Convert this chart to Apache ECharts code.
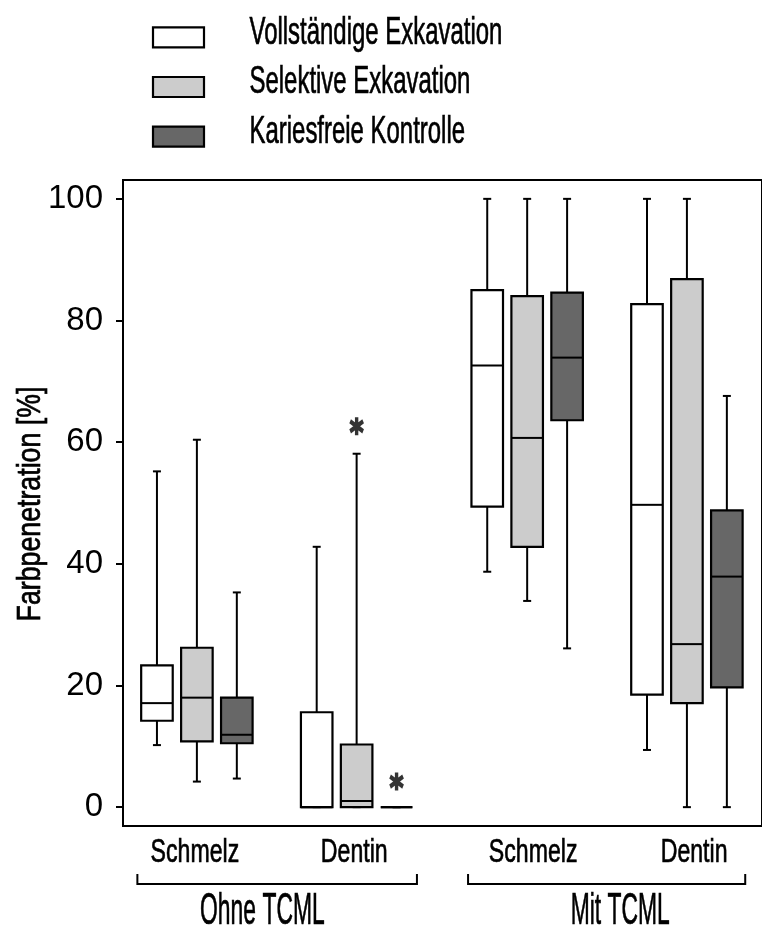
<!DOCTYPE html>
<html>
<head>
<meta charset="utf-8">
<script src="https://cdn.jsdelivr.net/npm/echarts@6/dist/echarts.min.js"></script>
<style>
  html, body { margin: 0; padding: 0; background: #fff; }
  #chart { width: 762px; height: 941px; }
</style>
</head>
<body>
<div id="chart"></div>
<script>
// Sites within each condition, in drawing order
const sites = ['Schmelz', 'Dentin', 'Schmelz', 'Dentin'];
const conditions = ['Ohne TCML', 'Mit TCML'];
const methods = ['Vollständige Exkavation', 'Selektive Exkavation', 'Kariesfreie Kontrolle'];

// Box statistics per site: [min, Q1, median, Q3, max] in %
const vollstaendig = [
  [10.2, 14.2, 17.1, 23.3, 55.2],
  [0, 0, 0, 15.6, 42.8],
  [38.7, 49.4, 72.6, 85.0, 100],
  [9.4, 18.5, 49.7, 82.7, 100]
];
const selektiv = [
  [4.2, 10.8, 18.0, 26.2, 60.4],
  [0, 0, 1.0, 10.3, 58.1],
  [33.9, 42.8, 60.7, 84.0, 100],
  [0, 17.1, 26.8, 86.8, 100]
];
const kontrolle = [
  [4.7, 10.5, 11.9, 18.0, 35.3],
  [0, 0, 0, 0, 0],
  [26.1, 63.6, 73.9, 84.6, 100],
  [0, 19.7, 37.9, 48.8, 67.6]
];

// Extreme values (site index, value) marked with an asterisk
const vollstaendigExtreme = [];
const selektivExtreme = [[1, 62.6]];
const kontrolleExtreme = [[1, 4.2]];

const yTicks = [0, 20, 40, 60, 80, 100];

// ---- layout (x axis is measured in box slots) ----
const siteX = [1.85, 5.85, 10.12, 14.12];
const siteLabelX = [1.80, 5.79, 10.27, 14.30];
const boxOffset = [-1, 0, 1];
const boxWidth = 0.79;
const bracketX = [[0.36, 7.36], [8.64, 15.58]];
const conditionLabelX = [3.49, 12.45];
const fills = ['#ffffff', '#cccccc', '#676767'];
const sans = '"Liberation Sans", Arial, sans-serif';

const boxSets = [vollstaendig, selektiv, kontrolle];
const extremeSets = [vollstaendigExtreme, selektivExtreme, kontrolleExtreme];

function renderBox(params, api) {
  const s = params.seriesIndex;
  const xc = siteX[api.value(0)] + boxOffset[s];
  const v = [1, 2, 3, 4, 5].map(i => api.value(i));
  const pt = val => api.coord([xc, val]);
  const half = api.size([boxWidth, 0])[0] / 2;
  const cap = 4;
  const [pLo, pQ1, pMd, pQ3, pHi] = v.map(pt);
  const cx = pLo[0];
  const line = (x1, y1, x2, y2) => ({
    type: 'line',
    shape: { x1, y1, x2, y2 },
    style: { stroke: '#000', lineWidth: 2 }
  });
  return {
    type: 'group',
    children: [
      line(cx, pQ3[1], cx, pHi[1]),
      line(cx - cap, pHi[1], cx + cap, pHi[1]),
      line(cx, pQ1[1], cx, pLo[1]),
      line(cx - cap, pLo[1], cx + cap, pLo[1]),
      {
        type: 'rect',
        shape: { x: cx - half, y: pQ3[1], width: half * 2, height: pQ1[1] - pQ3[1] },
        style: { fill: fills[s], stroke: '#000', lineWidth: 2.2 }
      },
      line(cx - half, pMd[1], cx + half, pMd[1])
    ]
  };
}

const series = [];
methods.forEach((name, s) => {
  series.push({
    name,
    type: 'custom',
    renderItem: renderBox,
    itemStyle: { color: fills[s], borderColor: '#000', borderWidth: 2 },
    data: boxSets[s].map((st, g) => [g].concat(st)),
    z: 2
  });
});
methods.forEach((name, s) => {
  if (!extremeSets[s].length) return;
  series.push({
    name: name + ' (Extremwerte)',
    type: 'scatter',
    symbol: 'path://M5,0L5,16M0,3.5L10,12.5M0,12.5L10,3.5',
    symbolSize: [13, 18],
    itemStyle: { color: 'rgba(0,0,0,0)', borderColor: '#000', borderWidth: 4 },
    data: extremeSets[s].map(([g, val]) => [siteX[g] + boxOffset[s], val]),
    z: 3
  });
});

const chart = echarts.init(document.getElementById('chart'), null, { renderer: 'canvas' });

chart.setOption({
  animation: false,
  backgroundColor: '#ffffff',
  grid: {
    left: 123,
    top: 180,
    width: 649,
    height: 646,
    show: true,
    borderColor: '#000',
    borderWidth: 2,
    backgroundColor: 'transparent'
  },
  xAxis: {
    type: 'value',
    min: 0,
    max: 16,
    splitLine: { show: false },
    axisTick: { show: false },
    axisLine: { show: true, onZero: false, lineStyle: { color: '#000', width: 2 } },
    axisLabel: { show: false }
  },
  yAxis: {
    type: 'value',
    min: -3.1,
    max: 103.1,
    splitLine: { show: false },
    axisLine: { show: true, lineStyle: { color: '#000', width: 2 } },
    axisTick: { show: true, length: 7, customValues: yTicks, lineStyle: { color: '#000', width: 2 } },
    axisLabel: {
      customValues: yTicks,
      margin: 20,
      fontFamily: sans,
      fontSize: 33,
      color: '#000'
    }
  },
  series
});

// Condensed captions: legend, site labels, condition brackets, axis title
const px = v => chart.convertToPixel({ xAxisIndex: 0 }, v);
const py = v => chart.convertToPixel({ yAxisIndex: 0 }, v);
const caption = (text, x, y, size, squeeze, extra) => Object.assign({
  type: 'text',
  x, y,
  scaleX: squeeze,
  style: {
    text,
    fontFamily: sans,
    fontSize: size,
    fill: '#000',
    stroke: '#000',
    lineWidth: 0.7,
    align: 'center',
    verticalAlign: 'middle'
  }
}, extra || {});

const graphics = [];

// legend
methods.forEach((name, s) => {
  const top = 27.3 + s * 49.7;
  graphics.push({
    type: 'rect',
    shape: { x: 153, y: top, width: 51, height: 20 },
    style: { fill: fills[s], stroke: '#000', lineWidth: 2.2 }
  });
  const t = caption(name, 249.5, top + 6, 38, 0.63);
  t.style.align = 'left';
  graphics.push(t);
});

// site labels under the axis
sites.forEach((name, i) => {
  graphics.push(caption(name, px(siteLabelX[i]), 852.5, 34, 0.68));
});

// condition brackets and captions
conditions.forEach((cond, i) => {
  const x1 = px(bracketX[i][0]);
  const x2 = px(bracketX[i][1]);
  graphics.push({
    type: 'polyline',
    shape: { points: [[x1, 874], [x1, 884], [x2, 884], [x2, 874]] },
    style: { stroke: '#000', lineWidth: 2, fill: null }
  });
  graphics.push(caption(cond, px(conditionLabelX[i]), 912, 44, 0.52));
});

// y axis title
graphics.push(caption('Farbpenetration [%]', 31, (py(0) + py(100)) / 2 + 1, 33, 0.81, { rotation: Math.PI / 2 }));

chart.setOption({ graphic: graphics });
</script>
</body>
</html>
